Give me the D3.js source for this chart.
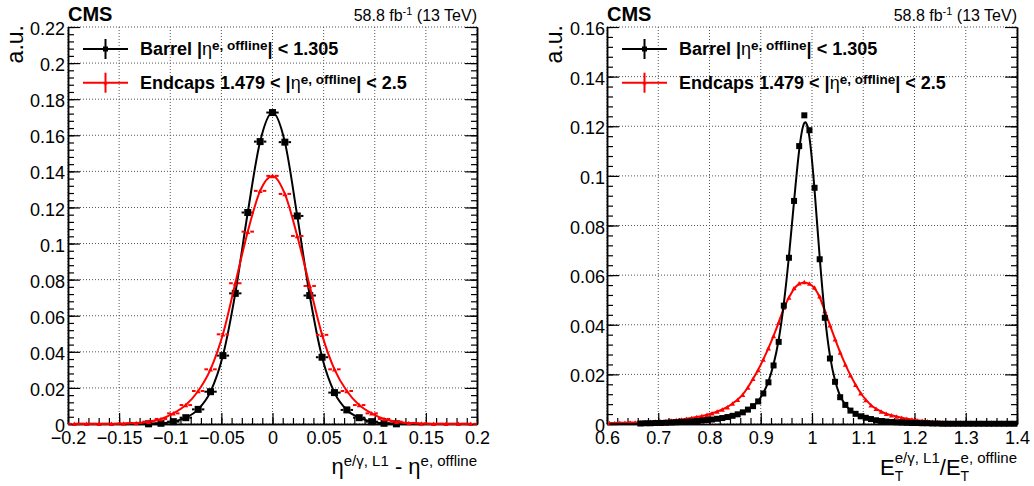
<!DOCTYPE html>
<html><head><meta charset="utf-8">
<script src="https://cdn.jsdelivr.net/npm/d3@7"></script>
<style>html,body{margin:0;padding:0;background:#fff;} text{white-space:pre;}</style>
</head><body>
<svg id="c" width="1034" height="486"></svg>
<script>
// ---------------- DATA ----------------
// Left panel: eta difference, 33 bins over [-0.2, 0.2]
const etaBins = [-0.1939,-0.1818,-0.1697,-0.1576,-0.1455,-0.1333,-0.1212,-0.1091,-0.0970,-0.0848,-0.0727,-0.0606,-0.0485,-0.0364,-0.0242,-0.0121,0,
  0.0121,0.0242,0.0364,0.0485,0.0606,0.0727,0.0848,0.0970,0.1091,0.1212,0.1333,0.1455,0.1576,0.1697,0.1818,0.1939];
const etaBarrel = [0,0,0,0,0,0,0.0001,0.0004,0.0013,0.0035,0.0081,0.0179,0.0379,0.0724,0.1172,0.1565,0.1726,
  0.1562,0.1153,0.0712,0.0370,0.0174,0.0078,0.0035,0.0013,0.0004,0.0001,0,0,0,0,0,0];
const etaEndcap = [0.0001,0.0001,0.0001,0.0001,0.0003,0.0006,0.0013,0.0028,0.0059,0.0105,0.0183,0.0303,0.0497,0.0780,0.1066,0.1292,0.1375,
  0.1275,0.1042,0.0765,0.0494,0.0303,0.0183,0.0105,0.0059,0.0028,0.0013,0.0006,0.0003,0.0001,0.0001,0.0001,0.0001];

// Right panel: ET ratio, 80 bins over [0.6, 1.4]
const etBins = [0.605,0.615,0.625,0.635,0.645,0.655,0.665,0.675,0.685,0.695,
  0.705,0.715,0.725,0.735,0.745,0.755,0.765,0.775,0.785,0.795,
  0.805,0.815,0.825,0.835,0.845,0.855,0.865,0.875,0.885,0.895,
  0.905,0.915,0.925,0.935,0.945,0.955,0.965,0.975,0.985,0.995,
  1.005,1.015,1.025,1.035,1.045,1.055,1.065,1.075,1.085,1.095,
  1.105,1.115,1.125,1.135,1.145,1.155,1.165,1.175,1.185,1.195,
  1.205,1.215,1.225,1.235,1.245,1.255,1.265,1.275,1.285,1.295,
  1.305,1.315,1.325,1.335,1.345,1.355,1.365,1.375,1.385,1.395];
const etBarrel = [0,0,0,0,0,0,0.0002,0.0003,0.0003,0.0004,
  0.0004,0.0005,0.0006,0.0007,0.0008,0.0009,0.0010,0.0012,0.0014,0.0016,
  0.0018,0.0021,0.0024,0.0028,0.0033,0.0039,0.0047,0.0058,0.0072,0.0091,
  0.0123,0.0168,0.0236,0.0331,0.0477,0.0670,0.0899,0.1120,0.1244,0.1184,
  0.0952,0.0664,0.0428,0.0264,0.0170,0.0108,0.0077,0.0054,0.0041,0.0031,
  0.0025,0.0020,0.0015,0.0012,0.0010,0.0008,0.0007,0.0006,0.0005,0.0004,
  0.0004,0.0003,0.0003,0.0002,0.0002,0.0001,0.0001,0.0001,0.0001,0.0001,
  0.0001,0.0001,0.0001,0.0001,0.0001,0.0001,0.0001,0.0001,0.0001,0.0001];
const etEndcap = [0.0004,0.0004,0.0005,0.0005,0.0006,0.0006,0.0007,0.0008,0.0009,0.0010,
  0.0011,0.0012,0.0014,0.0016,0.0018,0.0021,0.0024,0.0028,0.0032,0.0037,
  0.0043,0.0050,0.0058,0.0068,0.0083,0.0098,0.0118,0.0147,0.0182,0.0218,
  0.0260,0.0305,0.0355,0.0408,0.0470,0.0510,0.0548,0.0567,0.0572,0.0566,
  0.0550,0.0515,0.0455,0.0398,0.0342,0.0288,0.0240,0.0196,0.0158,0.0124,
  0.0097,0.0076,0.0061,0.0050,0.0041,0.0035,0.0030,0.0025,0.0021,0.0018,
  0.0015,0.0013,0.0011,0.0009,0.0008,0.0007,0.0006,0.0005,0.0005,0.0004,
  0.0004,0.0003,0.0003,0.0003,0.0003,0.0002,0.0002,0.0002,0.0002,0.0002];

// Tick values and labels
const etaTicks = [-0.2,-0.15,-0.1,-0.05,0,0.05,0.1,0.15,0.2];
const etaTickLabels = ["\u22120.2","\u22120.15","\u22120.1","\u22120.05","0","0.05","0.1","0.15","0.2"];
const yTicksLeft = [0,0.02,0.04,0.06,0.08,0.1,0.12,0.14,0.16,0.18,0.2,0.22];
const yTickLabelsLeft = ["0","0.02","0.04","0.06","0.08","0.1","0.12","0.14","0.16","0.18","0.2","0.22"];
const etTicks = [0.6,0.7,0.8,0.9,1.0,1.1,1.2,1.3,1.4];
const etTickLabels = ["0.6","0.7","0.8","0.9","1","1.1","1.2","1.3","1.4"];
const yTicksRight = [0,0.02,0.04,0.06,0.08,0.1,0.12,0.14,0.16];
const yTickLabelsRight = ["0","0.02","0.04","0.06","0.08","0.1","0.12","0.14","0.16"];

const legendLabels = ["Barrel", "Endcaps"];
const seriesColors = ["#000000", "#ff0000"];

// ---------------- DRAWING ----------------
const FONT = "'Liberation Sans', Arial, Helvetica, sans-serif";
const svg = d3.select("#c");

function rich(parent, x, y, segs, opts) {
  opts = opts || {};
  const text = parent.append("text").attr("x", x).attr("y", y)
    .attr("text-anchor", opts.anchor || "start").attr("font-family", FONT)
    .attr("fill", opts.fill || "#000");
  if (opts.rotate) text.attr("transform", `rotate(-90,${x},${y})`);
  let cur = 0, prevW = 0;
  segs.forEach(s => {
    const ts = text.append("tspan").text(s.t).attr("font-size", s.size)
      .attr("font-weight", s.weight || "normal");
    const b = s.base || 0;
    if (b - cur !== 0) ts.attr("dy", b - cur);
    cur = b;
    if (s.back) ts.attr("dx", -prevW);
    prevW = ts.node().getComputedTextLength();
  });
  return text;
}

function marker(g, type, cx, cy, s, color) {
  if (type === "square") {
    g.append("rect").attr("x", cx - s / 2).attr("y", cy - s / 2).attr("width", s).attr("height", s).attr("fill", color);
  } else {
    const h = s * 0.9;
    g.append("path").attr("d", `M${cx - s / 2},${cy + h / 2}L${cx + s / 2},${cy + h / 2}L${cx},${cy - h / 2}Z`).attr("fill", color);
  }
}

function drawPanel(cfg) {
  const x = d3.scaleLinear().domain(cfg.xDomain).range([cfg.x0, cfg.x1]);
  const y = d3.scaleLinear().domain(cfg.yDomain).range([cfg.y1, cfg.y0]);
  const g = svg.append("g");

  // grid
  g.selectAll(null).data(cfg.xTicks).join("line")
    .attr("x1", d => x(d)).attr("x2", d => x(d)).attr("y1", cfg.y0).attr("y2", cfg.y1)
    .attr("stroke", "#555").attr("stroke-width", 1).attr("stroke-dasharray", "1,2");
  g.selectAll(null).data(cfg.yTicks).join("line")
    .attr("y1", d => y(d)).attr("y2", d => y(d)).attr("x1", cfg.x0).attr("x2", cfg.x1)
    .attr("stroke", "#555").attr("stroke-width", 1).attr("stroke-dasharray", "1,2");

  // minor ticks
  const xMinor = d3.range(Math.round((cfg.xDomain[1] - cfg.xDomain[0]) / cfg.xMinor) + 1)
    .map(i => +(cfg.xDomain[0] + i * cfg.xMinor).toFixed(6));
  const yMinor = d3.range(Math.round((cfg.yDomain[1] - cfg.yDomain[0]) / cfg.yMinor) + 1)
    .map(i => +(cfg.yDomain[0] + i * cfg.yMinor).toFixed(6));

  const styleAxis = sel => {
    sel.attr("font-family", FONT).attr("font-size", 18);
    sel.selectAll("line").attr("stroke", "#000").attr("stroke-width", 1.2);
    sel.selectAll("path.domain").attr("stroke", "#000").attr("stroke-width", 1.5);
    sel.selectAll("text").attr("fill", "#000");
  };

  // bottom
  g.append("g").attr("transform", `translate(0,${cfg.y1})`)
    .call(d3.axisBottom(x).tickValues(xMinor).tickSize(-6).tickSizeOuter(0).tickFormat(""))
    .call(styleAxis);
  g.append("g").attr("transform", `translate(0,${cfg.y1})`)
    .call(d3.axisBottom(x).tickValues(cfg.xTicks).tickSize(-11).tickSizeOuter(0).tickPadding(7)
      .tickFormat((d, i) => cfg.xLabels[i]))
    .call(styleAxis);
  // left
  g.append("g").attr("transform", `translate(${cfg.x0},0)`)
    .call(d3.axisLeft(y).tickValues(yMinor).tickSize(-6).tickSizeOuter(0).tickFormat(""))
    .call(styleAxis);
  const ly = g.append("g").attr("transform", `translate(${cfg.x0},0)`)
    .call(d3.axisLeft(y).tickValues(cfg.yTicks).tickSize(-12).tickSizeOuter(0).tickPadding(cfg.yPad)
      .tickFormat((d, i) => cfg.yLabels[i]))
    .call(styleAxis);
  ly.selectAll("text").attr("dy", "0.42em");
  // right
  g.append("g").attr("transform", `translate(${cfg.x1},0)`)
    .call(d3.axisRight(y).tickValues(yMinor).tickSize(-6).tickSizeOuter(0).tickFormat(""))
    .call(styleAxis);
  g.append("g").attr("transform", `translate(${cfg.x1},0)`)
    .call(d3.axisRight(y).tickValues(cfg.yTicks).tickSize(-12).tickSizeOuter(0).tickFormat(""))
    .call(styleAxis);

  // series
  const bw = cfg.bins[1] - cfg.bins[0];
  cfg.series.forEach(s => {
    const data = cfg.bins.map((b, i) => ({ x: b, v: s.values[i] }));
    const line = d3.line().x(d => x(d.x)).y(d => y(d.v)).curve(cfg.curve);
    g.append("path").datum(data).attr("d", line).attr("fill", "none")
      .attr("stroke", s.color).attr("stroke-width", 2);
    const mg = g.append("g");
    data.forEach(d => {
      if (d.v <= 0) return;
      const cx = x(d.x), cy = y(d.v);
      const half = (x(d.x + bw / 2) - x(d.x - bw / 2)) / 2;
      const ms = s.size;
      if (half > ms / 2 + 0.5) {
        mg.append("line").attr("x1", cx - half).attr("x2", cx - ms / 2).attr("y1", cy).attr("y2", cy)
          .attr("stroke", s.color).attr("stroke-width", 2);
        mg.append("line").attr("x1", cx + ms / 2).attr("x2", cx + half).attr("y1", cy).attr("y2", cy)
          .attr("stroke", s.color).attr("stroke-width", 2);
      }
      marker(mg, s.marker, cx, cy, ms, s.color);
    });
  });

  // legend
  cfg.legend.forEach((s, i) => {
    const ly0 = cfg.y0 + 22 + i * 33.7;
    const lx0 = cfg.x0 + 15, lx1 = cfg.x0 + 60, lxc = (lx0 + lx1) / 2;
    g.append("line").attr("x1", lx0).attr("x2", lx1).attr("y1", ly0).attr("y2", ly0)
      .attr("stroke", s.color).attr("stroke-width", 2);
    g.append("line").attr("x1", lxc).attr("x2", lxc).attr("y1", ly0 - 10).attr("y2", ly0 + 10)
      .attr("stroke", s.color).attr("stroke-width", 2);
    marker(g, s.marker, lxc, ly0, s.marker === "square" ? 5 : 4, s.color);
    const base = ly0 + 6;
    const segs = i === 0
      ? [{ t: legendLabels[0] + " |", size: 18, weight: "bold" }, { t: "\u03b7", size: 18 },
         { t: "e, offline", size: 13.5, weight: "bold", base: -5 }, { t: "| < 1.305", size: 18, weight: "bold", base: 0 }]
      : [{ t: legendLabels[1] + " 1.479 < |", size: 18, weight: "bold" }, { t: "\u03b7", size: 18 },
         { t: "e, offline", size: 13.5, weight: "bold", base: -5 }, { t: "| < 2.5", size: 18, weight: "bold", base: 0 }];
    rich(g, cfg.x0 + 72, base, segs);
  });

  // header
  rich(g, cfg.x0, 21, [{ t: "CMS", size: 20, weight: "bold" }]);
  rich(g, cfg.x1, 21, [{ t: "58.8 fb", size: 16 }, { t: "-1", size: 11, base: -6 }, { t: " (13 TeV)", size: 16, base: 0 }], { anchor: "end" });
  // y title
  rich(g, cfg.x0 - 45, 25, [{ t: "a.u.", size: 23 }], { anchor: "end", rotate: true });
  // x title
  rich(g, cfg.x1, cfg.titleY, cfg.xTitle, { anchor: "end" });
}

const blackL = { values: etaBarrel, color: seriesColors[0], marker: "square", size: 7 };
const redL = { values: etaEndcap, color: seriesColors[1], marker: "triangle", size: 5 };
drawPanel({
  x0: 68, x1: 477, y0: 27, y1: 424,
  xDomain: [-0.2, 0.2], yDomain: [0, 0.22],
  xTicks: etaTicks, xLabels: etaTickLabels, yTicks: yTicksLeft, yLabels: yTickLabelsLeft,
  xMinor: 0.01, yMinor: 0.004, yPad: 3,
  bins: etaBins, curve: d3.curveMonotoneX,
  series: [blackL, redL],
  legend: [blackL, redL],
  titleY: 473.5,
  xTitle: [{ t: "\u03b7", size: 22 }, { t: "e/\u03b3, L1", size: 15, base: -8 }, { t: " - \u03b7", size: 22, base: 0 },
           { t: "e, offline", size: 15, base: -8 }]
});

const blackR = { values: etBarrel, color: seriesColors[0], marker: "square", size: 6 };
const redR = { values: etEndcap, color: seriesColors[1], marker: "triangle", size: 5 };
drawPanel({
  x0: 607, x1: 1017, y0: 27, y1: 424,
  xDomain: [0.6, 1.4], yDomain: [0, 0.16],
  xTicks: etTicks, xLabels: etTickLabels, yTicks: yTicksRight, yLabels: yTickLabelsRight,
  xMinor: 0.02, yMinor: 0.004, yPad: 2,
  bins: etBins, curve: d3.curveBasis,
  series: [redR, blackR],
  legend: [blackR, redR],
  titleY: 475,
  xTitle: [{ t: "E", size: 22 }, { t: "T", size: 14, base: 6 }, { t: "e/\u03b3, L1", size: 15, base: -12, back: true },
           { t: "/E", size: 22, base: 0 }, { t: "T", size: 14, base: 6 }, { t: "e, offline", size: 15, base: -12, back: true }]
});
</script>
</body></html>
